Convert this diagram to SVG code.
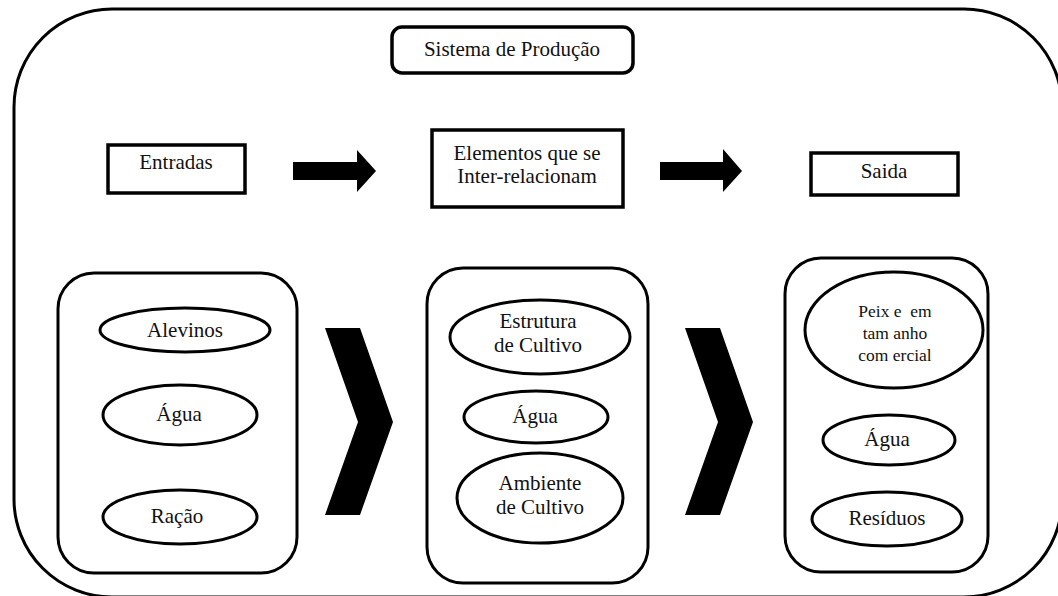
<svg xmlns="http://www.w3.org/2000/svg" width="1058" height="596" viewBox="0 0 1058 596">
<style>
text{font-family:'Liberation Serif','Times New Roman',serif;font-size:21px;fill:#111;text-anchor:middle}
text.s{font-size:17.5px}
.box{fill:#fff;stroke:#000;stroke-width:3.5}
.col{fill:#fff;stroke:#000;stroke-width:3}
.el{fill:#fff;stroke:#000;stroke-width:3}
.blk{fill:#000}
</style>
<rect width="1058" height="596" fill="#fff"/>
<g id="frame"><rect x="14" y="9" width="1048" height="588" rx="98" ry="98" fill="none" stroke="#000" stroke-width="3"/></g>
<g id="sistema"><rect class="box" x="392" y="27" width="241" height="46" rx="10"/><text x="512" y="56">Sistema de Produção</text></g>
<g id="entradas"><rect class="box" x="108" y="145" width="137" height="48"/><text x="176" y="169">Entradas</text></g>
<g id="elementos"><rect class="box" x="432" y="130" width="191" height="77"/><text x="527" y="160">Elementos que se</text><text x="527" y="183">Inter-relacionam</text></g>
<g id="saida"><rect class="box" x="811" y="153" width="147" height="42"/><text x="884" y="178">Saida</text></g>
<g id="connectors">
<polygon class="blk" points="293,162 357,162 357,150 376,171 357,192 357,180 293,180"/>
<polygon class="blk" points="660,162 723,162 723,149 742,171 723,192 723,180 660,180"/>
<polygon class="blk" points="325,328 360,328 393,422 360,515 325,515 358,422"/>
<polygon class="blk" points="685,328 720,328 753,422 720,515 685,515 718,422"/>
</g>
<g id="col-entradas">
<rect class="col" x="58" y="273" width="239" height="300" rx="36"/>
<g id="alevinos"><ellipse class="el" cx="185" cy="330" rx="85" ry="22"/><text x="185" y="337">Alevinos</text></g>
<g id="agua1"><ellipse class="el" cx="180" cy="415" rx="77" ry="30"/><text x="179" y="421">Água</text></g>
<g id="racao"><ellipse class="el" cx="180" cy="517" rx="77" ry="27"/><text x="177" y="523">Ração</text></g>
</g>
<g id="col-elementos">
<rect class="col" x="427" y="268" width="221" height="315" rx="36"/>
<g id="estrutura"><ellipse class="el" cx="540" cy="337" rx="90" ry="37"/><text x="538" y="328">Estrutura</text><text x="538" y="352">de Cultivo</text></g>
<g id="agua2"><ellipse class="el" cx="536" cy="417" rx="72" ry="26"/><text x="535" y="423">Água</text></g>
<g id="ambiente"><ellipse class="el" cx="540" cy="498" rx="83" ry="45"/><text x="540" y="490">Ambiente</text><text x="540" y="514">de Cultivo</text></g>
</g>
<g id="col-saida">
<rect class="col" x="785" y="258" width="203" height="314" rx="36"/>
<g id="peixe"><ellipse class="el" cx="894" cy="330" rx="89" ry="58"/><text class="s" x="895" y="317" xml:space="preserve">Peix e  em</text><text class="s" x="895" y="339">tam anho</text><text class="s" x="895" y="361">com ercial</text></g>
<g id="agua3"><ellipse class="el" cx="889" cy="440" rx="66" ry="25"/><text x="887" y="446">Água</text></g>
<g id="residuos"><ellipse class="el" cx="887" cy="519" rx="75" ry="27"/><text x="887" y="525">Resíduos</text></g>
</g>
</svg>
